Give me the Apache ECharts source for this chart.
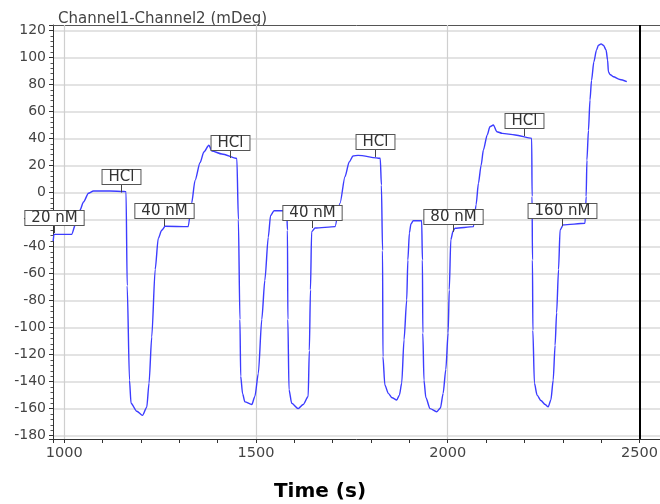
<!DOCTYPE html>
<html>
<head>
<meta charset="utf-8">
<script src="https://cdn.jsdelivr.net/npm/echarts@6/dist/echarts.min.js"></script>
<style>html,body{margin:0;padding:0;background:#fff;overflow:hidden}#c{width:660px;height:504px}</style>
</head>
<body>
<div id="c"></div>
<script>
// Time (s)
const times = [971,973,1019,1031,1041,1050,1063,1076,1119,1156,1161,1164,1170,1174,1189,1204,1215,1221,1228,1237,1245,1254,1263,1323,1332,1341,1354,1364,1377,1385,1411,1450,1454,1458,1460,1465,1471,1489,1497,1506,1515,1523,1532,1538,1547,1580,1582,1583,1586,1593,1610,1623,1636,1639,1642,1645,1654,1706,1719,1732,1743,1753,1766,1824,1827,1830,1831,1836,1845,1855,1867,1874,1880,1886,1893,1896,1900,1904,1910,1932,1934,1935,1938,1943,1954,1971,1981,1988,1995,2001,2004,2008,2014,2019,2067,2074,2080,2087,2093,2103,2110,2119,2128,2142,2176,2219,2220,2221,2222,2226,2233,2243,2254,2262,2269,2275,2280,2284,2289,2293,2301,2358,2361,2363,2367,2371,2375,2381,2388,2393,2400,2406,2413,2417,2419,2423,2432,2449,2467];
// Channel1-Channel2 (mDeg)
const signal = [-36,-31,-31,-22,-13,-7,-0.6,1.1,1.1,0.7,0.6,-69,-139,-156,-162,-165,-159,-141,-107,-57,-34,-28,-25,-25.3,-8,9,22,30,35,30.7,28.5,25.2,-20,-94,-136,-149,-155,-157,-151,-134,-94,-65,-33,-17,-13.5,-13.5,-28,-94,-146,-156,-160,-157,-151,-117,-72,-29,-26.3,-25.3,-8,11.7,22.6,27,27.5,25.3,5.5,-43,-121.6,-142.5,-148.7,-152,-153.6,-150,-141,-109,-79.6,-50,-30,-23.3,-20.9,-20.9,-50,-104,-139,-152,-160,-162.3,-159.5,-148.7,-131,-104,-72,-35,-28.5,-26.5,-25.3,-9,6.8,20,31.5,42.6,48.7,50,45,43.8,42.6,40.1,-3,-50,-102,-141,-150,-154,-157,-158.6,-153.6,-139,-113,-89,-57,-27.8,-24,-22.8,-3,24,46,68.5,83,96.6,105.5,109,110,109,105.5,98,89.4,87.4,85.7,83.7,82];

// Injection annotations
const annoLabels = ['20 nM','HCl','40 nM','HCl','40 nM','HCl','80 nM','HCl','160 nM'];
const annoTimes  = [974,1148,1261,1432,1647,1810,2014,2200,2297];
const annoValues = [-30,0,-24.8,25.5,-26.3,26.3,-29.2,41.8,-24.8];

// Vertical grid lines and cursor line
const xGridTimes = [1000, 1500, 2000];
const cursorTimes = [2500];

const FONT = 'DejaVu Sans';
const X_MIN = 970.5, X_MAX = 2553.6;
const lineData = times.map((t, i) => [t, signal[i]]);
const annoData = annoTimes.map((t, i) => [t, annoValues[i], i]);
const plain = v => String(v);

const chart = echarts.init(document.getElementById('c'), null, {renderer: 'canvas', width: 660, height: 504});
chart.setOption({
  animation: false,
  backgroundColor: '#fff',
  grid: {left: 53, right: 0, top: 25, bottom: 65, show: false, containLabel: false, outerBoundsMode: 'none'},
  xAxis: [{
    type: 'value', min: X_MIN, max: X_MAX, splitNumber: 3, minInterval: 500, maxInterval: 500,
    name: 'Time (s)', nameLocation: 'middle', nameGap: 43,
    nameTextStyle: {fontFamily: FONT, fontSize: 20, fontWeight: 'bold', color: '#000', padding: [0, 73, 0, 0]},
    axisLine: {show: true, onZero: false, lineStyle: {color: '#333', width: 1}},
    axisTick: {show: true, length: 4, lineStyle: {color: '#333'}},
    minorTick: {show: true, splitNumber: 5, length: 4, lineStyle: {color: '#333'}},
    axisLabel: {fontFamily: FONT, fontSize: 14.5, color: '#444', margin: 7, showMinLabel: false, showMaxLabel: false, formatter: plain},
    splitLine: {show: false}
  }, {
    type: 'value', position: 'top', min: X_MIN, max: X_MAX,
    axisLine: {show: true, onZero: false, lineStyle: {color: '#555', width: 1}},
    axisTick: {show: false}, axisLabel: {show: false}, splitLine: {show: false}
  }],
  yAxis: {
    type: 'value', min: -182.5, max: 124, splitNumber: 15, minInterval: 20, maxInterval: 20,
    name: 'Channel1-Channel2 (mDeg)', nameLocation: 'end', nameGap: -2,
    nameTextStyle: {fontFamily: FONT, fontSize: 15, color: '#444', align: 'left', verticalAlign: 'bottom', padding: [0, 0, 0, 5]},
    axisLine: {show: true, onZero: false, lineStyle: {color: '#333', width: 1}},
    axisTick: {show: true, length: 4, lineStyle: {color: '#333'}},
    minorTick: {show: true, splitNumber: 5, length: 2.5, lineStyle: {color: '#555'}},
    axisLabel: {fontFamily: FONT, fontSize: 14, color: '#444', margin: 7, showMinLabel: false, showMaxLabel: false, formatter: plain},
    splitLine: {show: true, showMinLine: false, showMaxLine: false, lineStyle: {color: '#dadada', width: 1.6}}
  },
  series: [
    {
      type: 'line', data: [], xAxisIndex: 0, z: 1, silent: true,
      markLine: {
        silent: true, symbol: 'none', label: {show: false}, z: 1,
        lineStyle: {color: '#cfcfcf', width: 1.2, type: 'solid'},
        data: xGridTimes.map(t => ({xAxis: t}))
      }
    },
    {
      type: 'line', data: lineData, showSymbol: false, z: 3, xAxisIndex: 0,
      smooth: 0.25, smoothMonotone: 'x',
      lineStyle: {color: '#3c3cff', width: 1.4},
      markLine: {
        silent: true, symbol: 'none', label: {show: false},
        lineStyle: {color: '#000', width: 2, type: 'solid'},
        data: cursorTimes.map(t => ({xAxis: t}))
      }
    },
    {
      type: 'custom', data: annoData, clip: false, z: 5, xAxisIndex: 0,
      encode: {x: 0, y: 1},
      renderItem: function (params, api) {
        const p = api.coord([api.value(0), api.value(1)]);
        const txt = annoLabels[api.value(2)];
        const x = Math.round(p[0]) + 0.5;
        return {
          type: 'group',
          children: [
            {type: 'line', shape: {x1: x, y1: p[1], x2: x, y2: p[1] - 8}, style: {stroke: '#444', lineWidth: 1}},
            {type: 'text', x: x, y: Math.round(p[1] - 8),
             style: {text: txt, align: 'center', verticalAlign: 'bottom', fontFamily: FONT, fontSize: 15, fill: '#333',
                     backgroundColor: '#fff', borderColor: '#555', borderWidth: 1, padding: [0, 6, 0, 6], lineHeight: 14}}
          ]
        };
      }
    }
  ]
});
</script>
</body>
</html>
